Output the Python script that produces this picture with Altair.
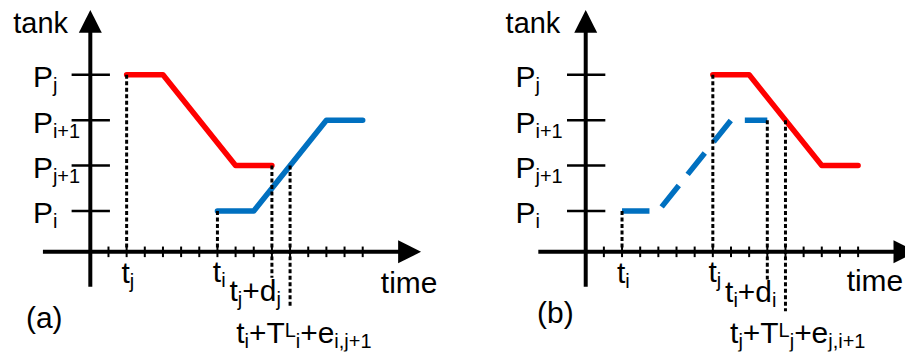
import altair as alt
import pandas as pd

# ---------------- values ----------------
# tank levels (time axis at level 0) and the subscripts of their P labels
level_subs = ["i", "j+1", "i+1", "j"]
level_values = [0.9, 1.9, 2.9, 3.9]
# minor ticks on the time axis (time units)
time_ticks = list(range(1, 16))

# panel (a)
a_red_t = [2, 4, 8, 10]
a_red_lvl = [3.9, 3.9, 1.9, 1.9]
a_blue_t = [7, 9, 13, 15]
a_blue_lvl = [0.9, 0.9, 2.9, 2.9]
a_guide_t = [2, 7, 10, 11]
a_guide_top = [3.9, 0.9, 1.9, 1.9]
a_guide_bot = [0.0, 0.0, -0.57, -1.23]
a_label_t = [2, 7, 10, 11]
a_label_parts = [
    [("t", "main"), ("j", "sub")],
    [("t", "main"), ("i", "sub")],
    [("t", "main"), ("j", "sub"), ("+d", "main"), ("j", "sub")],
    [("t", "main"), ("i", "sub"), ("+T", "main"), ("L", "sup"), ("i", "sub"),
     ("+e", "main"), ("i,j+1", "sub")],
]

# panel (b)
b_red_t = [7, 9, 13, 15]
b_red_lvl = [3.9, 3.9, 1.9, 1.9]
b_blue_t = [2, 4, 8, 10]
b_blue_lvl = [0.9, 0.9, 2.9, 2.9]
b_guide_t = [2, 7, 10, 11]
b_guide_top = [0.9, 3.9, 2.9, 2.9]
b_guide_bot = [0.0, 0.0, -0.61, -1.31]
b_label_t = [2, 7, 10, 11]
b_label_parts = [
    [("t", "main"), ("i", "sub")],
    [("t", "main"), ("j", "sub")],
    [("t", "main"), ("i", "sub"), ("+d", "main"), ("i", "sub")],
    [("t", "main"), ("j", "sub"), ("+T", "main"), ("L", "sup"), ("j", "sub"),
     ("+e", "main"), ("j,i+1", "sub")],
]

# ---------------- layout (pixels) ----------------
UX = 18.2    # px per time unit
UY = 45.5    # px per level unit
H = 344
AXIS_FROM_TOP = 244
FONT = "Liberation Sans"
SIZES = {"main": 30, "sub": 20, "sup": 20, "title": 29}
SHIFT = {"main": 0, "sub": 5, "sup": -6, "title": 0}
RED, BLUE = "#ff0000", "#0070c0"

WIDTHS = {'t': 278, 'i': 222, 'j': 222, '+': 584, 'd': 556, 'T': 611, 'L': 556,
          'e': 556, ',': 278, '1': 556, 'P': 667}


def segs(x0, y0, parts, dx, dy):
    rows, cur = [], dx
    for txt, kind in parts:
        size = SIZES[kind]
        rows.append(dict(x=x0 + cur / UX, y=y0 - (dy + SHIFT[kind]) / UY,
                         text=txt, size=size))
        cur += sum(WIDTHS.get(c, 556) for c in txt) * size / 1000
    return rows


def panel(width, origin, red_t, red_lvl, blue_t, blue_lvl, blue_dashed,
          g_t, g_top, g_bot, lab_t, lab_parts, lab_off, lvl_dx,
          tank_off, time_off, tag, tag_off):
    xs = alt.Scale(domain=[-origin / UX, (width - origin) / UX], nice=False, zero=False)
    ys = alt.Scale(domain=[-(H - AXIS_FROM_TOP) / UY, AXIS_FROM_TOP / UY], nice=False, zero=False)
    X = lambda f: alt.X(f, type="quantitative", scale=xs, axis=None)
    Y = lambda f: alt.Y(f, type="quantitative", scale=ys, axis=None)

    # axes
    axes = pd.DataFrame([
        dict(x=0, x2=0, y=-35 / UY, y2=231 / UY),
        dict(x=-47.5 / UX, x2=320 / UX, y=0, y2=0),
    ])
    axis_layer = alt.Chart(axes).mark_rule(color="black", strokeWidth=4).encode(
        x=X("x"), x2="x2", y=Y("y"), y2="y2")
    arrows = pd.DataFrame([
        dict(x=0, y=231 / UY, shape="M0,-1L1,1L-1,1Z"),
        dict(x=320 / UX, y=0, shape="M-1,-1L1,0L-1,1Z"),
    ])
    arrow_layer = alt.Chart(arrows).mark_point(
        filled=True, color="black", size=529, opacity=1, strokeWidth=0, clip=True
    ).encode(x=X("x"), y=Y("y"), shape=alt.Shape("shape:N", scale=None))

    yt = pd.DataFrame(dict(x=[-1.03] * 4, x2=[1.08] * 4, y=level_values))
    ytick_layer = alt.Chart(yt).mark_rule(color="black", strokeWidth=2.5).encode(
        x=X("x"), x2="x2", y=Y("y"))
    xt = pd.DataFrame(dict(x=time_ticks, y=[-5.3 / UY] * 15, y2=[5.3 / UY] * 15))
    xtick_layer = alt.Chart(xt).mark_rule(color="black", strokeWidth=2).encode(
        x=X("x"), y=Y("y"), y2="y2")

    red = pd.DataFrame(dict(t=red_t, lvl=red_lvl, o=range(4)))
    red_layer = alt.Chart(red).mark_line(
        color=RED, strokeWidth=5.5, strokeCap="round", strokeJoin="round"
    ).encode(x=X("t"), y=Y("lvl"), order="o:Q")
    blue = pd.DataFrame(dict(t=blue_t, lvl=blue_lvl, o=range(4)))
    if blue_dashed:
        bmark = alt.Chart(blue).mark_line(color=BLUE, strokeWidth=5.5, strokeCap="butt",
                                          strokeJoin="miter", strokeDash=[27.5, 14.2])
    else:
        bmark = alt.Chart(blue).mark_line(color=BLUE, strokeWidth=5.5, strokeCap="round",
                                          strokeJoin="round")
    blue_layer = bmark.encode(x=X("t"), y=Y("lvl"), order="o:Q")

    guides = pd.DataFrame(dict(t=g_t, top=g_top, bot=g_bot))
    guide_layer = alt.Chart(guides).mark_rule(
        color="black", strokeWidth=3, strokeDash=[4, 2.5]
    ).encode(x=X("t"), y=Y("top"), y2="bot")

    rows = []
    for s, v in zip(level_subs, level_values):
        rows += segs(0, v, [("P", "main"), (s, "sub")], lvl_dx, 12.5)
    for t, parts, (dx, dy) in zip(lab_t, lab_parts, lab_off):
        rows += segs(t, 0, parts, dx, dy)
    rows += segs(0, 0, [("tank", "title")], *tank_off)
    rows += segs(0, 0, [("time", "main")], *time_off)
    rows += segs(0, 0, [(tag, "main")], *tag_off)
    text_layer = alt.Chart(pd.DataFrame(rows)).mark_text(
        align="left", baseline="alphabetic", font=FONT, color="black", clip=True
    ).encode(x=X("x"), y=Y("y"), text="text:N", size=alt.Size("size:Q", scale=None))

    return alt.layer(
        axis_layer, ytick_layer, xtick_layer, arrow_layer,
        red_layer, blue_layer, guide_layer, text_layer
    ).properties(width=width, height=H)


pa = panel(450, 82.5, a_red_t, a_red_lvl, a_blue_t, a_blue_lvl, False,
           a_guide_t, a_guide_top, a_guide_bot,
           a_label_t, a_label_parts, [(-5.2, 31), (-4.6, 30.7), (-42.5, 49.7), (-54, 91)],
           -57.5, (-77.2, -219.5), (291.2, 41.3), "(a)", (-64.5, 76.7))
pb = panel(449, 129, b_red_t, b_red_lvl, b_blue_t, b_blue_lvl, True,
           b_guide_t, b_guide_top, b_guide_bot,
           b_label_t, b_label_parts, [(-5.1, 31.3), (-4.4, 30.7), (-42.3, 50.7), (-55.5, 91.3)],
           -70.3, (-80.3, -219.5), (261.5, 39.7), "(b)", (-48.7, 71.7))

chart = alt.hconcat(pa, pb, spacing=0, bounds="flush", padding=0).configure_view(stroke=None)
chart.save("out.html", embed_options={"renderer": "svg", "actions": False})
